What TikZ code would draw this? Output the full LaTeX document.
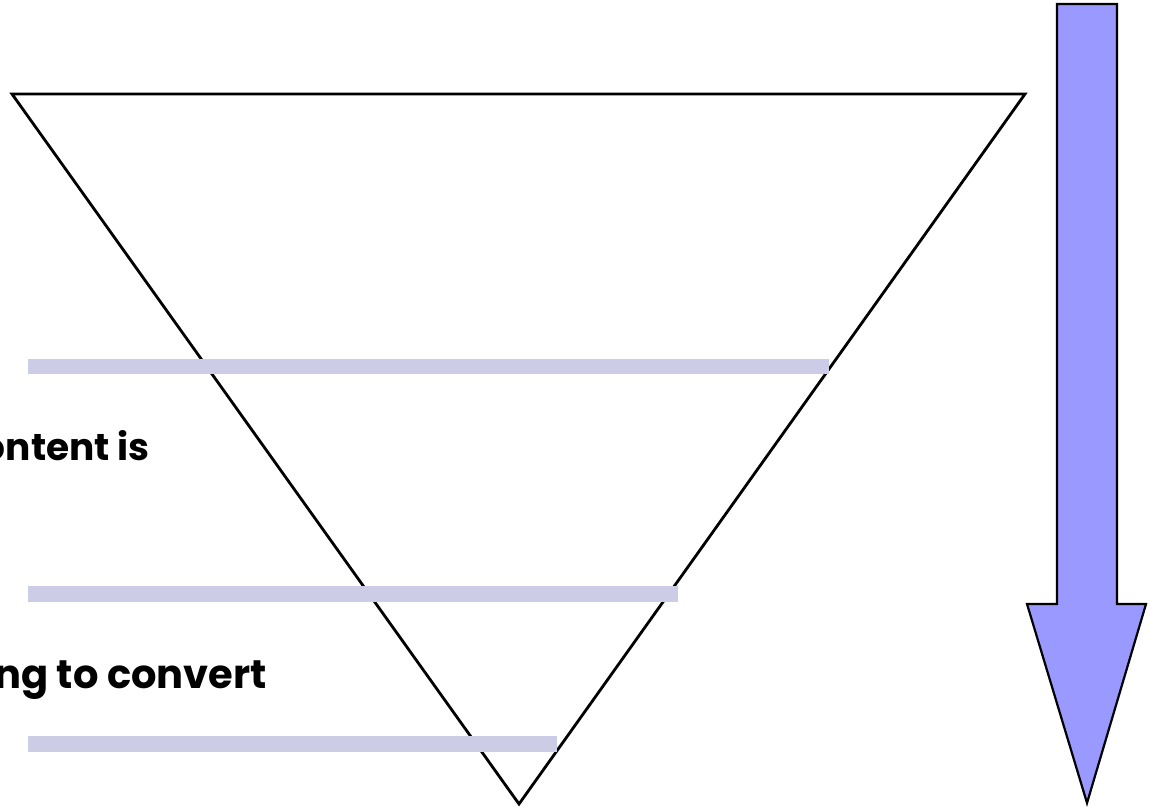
\documentclass[tikz,border=0pt]{standalone}
\usepackage{fontspec}
\setmainfont{Poppins}
\begin{document}
\begin{tikzpicture}[x=1pt,y=-1pt,
  tri/.style={draw=black,line width=2.8pt,line join=miter},
  bar/.style={draw=none,fill=barcol},
  arrowshape/.style={draw=black,line width=2.2pt,fill=arrowcol,line join=miter},
  lbl/.style={font=\bfseries\fontsize{39}{46}\selectfont,inner sep=0pt,anchor=base east}]
\definecolor{barcol}{HTML}{CCCCE6}
\definecolor{arrowcol}{HTML}{9999FF}
\useasboundingbox (0,0) rectangle (1155,809);
\clip (0,0) rectangle (1155,809);
% funnel
\coordinate (tl) at (12,94);
\coordinate (tr) at (1025,94);
\coordinate (bt) at (519,804);
\draw[tri] (tl) -- (tr) -- (bt) -- cycle;
% bars
\fill[bar] (28,359) rectangle (829,374);
\fill[bar] (28,586) rectangle (678,602);
\fill[bar] (28,736) rectangle (557,752);
% labels
\node[lbl,font=\bfseries\fontsize{37.5}{44}\selectfont] (t1) at (150,460) {ontent is};
\node[lbl,font=\bfseries\fontsize{40}{46}\selectfont] (t2) at (267,688) {ng to convert};
% arrow
\draw[arrowshape] (1057,4) -- (1117,4) -- (1117,604) -- (1146,604) -- (1087,803)
  -- (1027,604) -- (1057,604) -- cycle;
\end{tikzpicture}
\end{document}
